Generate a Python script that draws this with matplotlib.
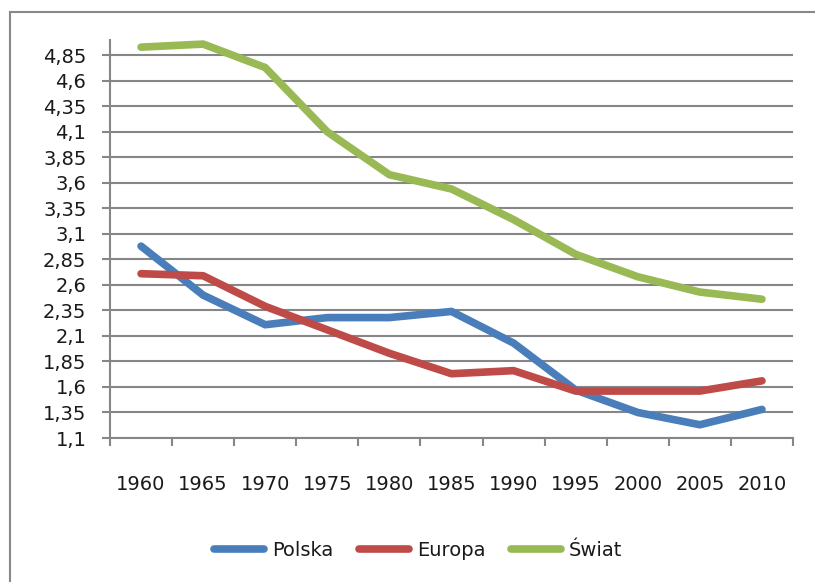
import matplotlib
matplotlib.use("Agg")
import matplotlib.pyplot as plt
from matplotlib.lines import Line2D
import numpy as np

# dane: dzietnosc
lata = ["1960", "1965", "1970", "1975", "1980", "1985", "1990", "1995", "2000", "2005", "2010"]
polska = [2.98, 2.50, 2.21, 2.28, 2.28, 2.34, 2.03, 1.57, 1.35, 1.23, 1.38]
europa = [2.71, 2.69, 2.39, 2.16, 1.93, 1.73, 1.76, 1.56, 1.56, 1.56, 1.66]
swiat = [4.93, 4.96, 4.73, 4.10, 3.68, 3.54, 3.24, 2.90, 2.68, 2.53, 2.46]
y_ticks = [1.1, 1.35, 1.6, 1.85, 2.1, 2.35, 2.6, 2.85, 3.1, 3.35, 3.6, 3.85, 4.1, 4.35, 4.6, 4.85]

plt.rcParams['font.family'] = ['DejaVu Sans']
fig = plt.figure(figsize=(8.15, 5.82), dpi=100)
ax = fig.add_axes([110/815, 1-438/582, (793-110)/815, (438-40)/582])

x = np.arange(len(lata))
ax.plot(x, polska, color='#4A7EBB', lw=5.5, solid_joinstyle='round', solid_capstyle='round', label='Polska')
ax.plot(x, europa, color='#BE4B48', lw=5.5, solid_joinstyle='round', solid_capstyle='round', label='Europa')
ax.plot(x, swiat, color='#98B954', lw=5.5, solid_joinstyle='round', solid_capstyle='round', label='Świat')

ax.set_xlim(-0.5, len(lata)-0.5)
ax.set_ylim(1.1, 5.0)
ax.set_yticks(y_ticks)
ax.set_yticklabels([str(v).replace('.', ',') for v in y_ticks])
ax.set_xticks(x)
ax.set_xticklabels(lata)
ax.set_xticks(np.arange(-0.5, len(lata)), minor=True)
ax.tick_params(axis='x', which='major', length=0, pad=27, labelsize=14, labelcolor='#1a1a1a')
ax.tick_params(axis='x', which='minor', length=6, width=1.5, color='#868686')
ax.tick_params(axis='y', length=6, width=1.5, color='#868686', pad=11, labelsize=14, labelcolor='#1a1a1a')

ax.grid(axis='y', color='#868686', lw=1.5)
ax.set_axisbelow(True)
for s in ['top', 'right']:
    ax.spines[s].set_visible(False)
for s in ['left', 'bottom']:
    ax.spines[s].set_color('#868686')
    ax.spines[s].set_linewidth(1.5)

leg = fig.legend(handles=ax.get_lines(), loc='center', bbox_to_anchor=(418/815, 1-550/582),
                 ncol=3, frameon=False, fontsize=14, handlelength=2.6, handletextpad=0.4,
                 columnspacing=1.3)
for t in leg.get_texts():
    t.set_color('#1a1a1a')

# ramka wykresu
fig.add_artist(Line2D([10/815, 10/815], [0, 1-12/582], color='#888888', lw=1.5))
fig.add_artist(Line2D([10/815, 1], [1-12/582, 1-12/582], color='#888888', lw=1.5))

fig.savefig('out.png', dpi=100)
